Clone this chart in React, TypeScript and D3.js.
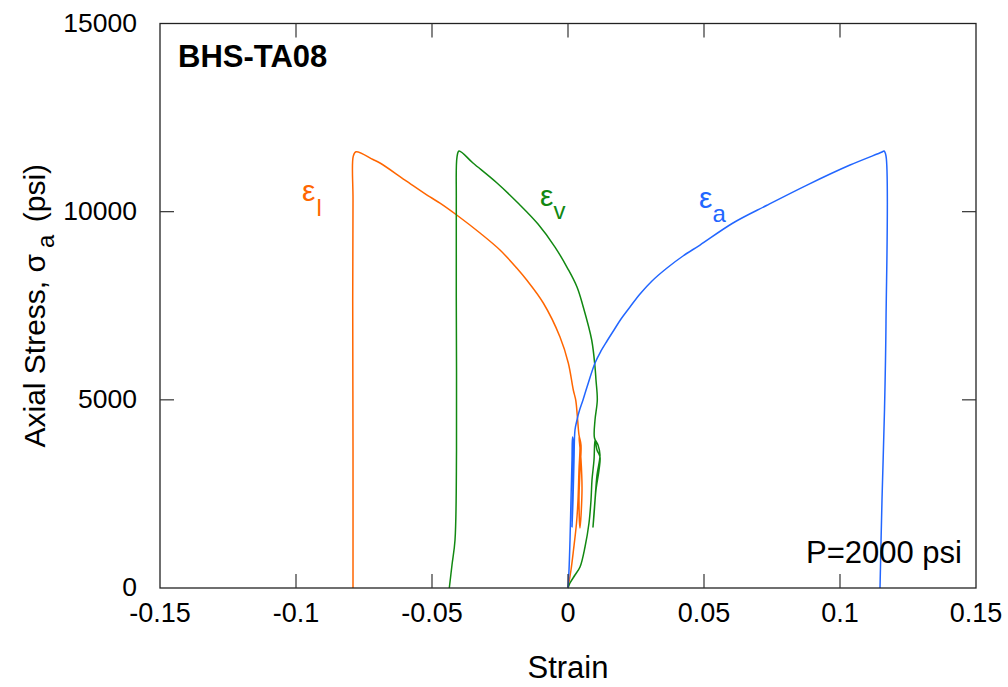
import React from "react";
import * as d3 from "d3";

// axial strain (blue)
const axialStrain = [0, 0.00037, 0.00074, 0.0011, 0.00147, 0.00165, 0.00184, 0.00184, 0.00147, 0.00184, 0.00221, 0.00257, 0.00331, 0.00404, 0.00551, 0.00699, 0.00993, 0.01213, 0.01434, 0.01691, 0.01949, 0.02279, 0.02647, 0.03088, 0.0364, 0.04228, 0.04853, 0.06066, 0.07316, 0.08787, 0.10368, 0.11544, 0.11618, 0.11691, 0.11691, 0.11636, 0.11544, 0.11471];
const axialStress = [0, 478, 1276, 2338, 3401, 4012, 3933, 2870, 1621, 2338, 3401, 4198, 4464, 4677, 4996, 5341, 5979, 6298, 6563, 6856, 7148, 7467, 7812, 8158, 8503, 8822, 9114, 9699, 10171, 10707, 11239, 11585, 11611, 11479, 7042, 4730, 2338, 0];

// lateral strain (orange)
const lateralStrain = [0, 0.0011, 0.00202, 0.00313, 0.00368, 0.00404, 0.00441, 0.00404, 0.00478, 0.00515, 0.00441, 0.00404, 0.00441, 0.00478, 0.00404, 0.00349, 0.00283, 0.00195, 0.00011, -0.00294, -0.00908, -0.01518, -0.01886, -0.025, -0.03235, -0.04092, -0.04706, -0.05074, -0.05993, -0.06912, -0.0717, -0.07794, -0.07893, -0.07904, -0.07915, -0.07904, -0.07904];
const lateralStress = [0, 478, 1010, 1727, 2338, 3136, 3800, 4012, 3401, 2604, 1594, 2338, 3136, 3800, 4066, 4517, 4996, 5261, 5979, 6670, 7573, 8184, 8503, 8981, 9433, 9912, 10228, 10390, 10841, 11293, 11386, 11593, 11479, 10310, 7653, 3667, 0];

// volumetric strain (green)
const volStrain = [0, 0.00074, 0.00257, 0.00441, 0.00625, 0.00772, 0.00846, 0.00882, 0.00956, 0.00993, 0.01066, 0.01176, 0.0114, 0.01029, 0.00956, 0.00919, 0.00993, 0.01066, 0.01176, 0.01103, 0.00974, 0.00993, 0.01077, 0.01029, 0.00993, 0.00871, 0.00551, 0.00331, 0, -0.00478, -0.01103, -0.01801, -0.0261, -0.03493, -0.04007, -0.04081, -0.04107, -0.04107, -0.04099, -0.04154, -0.04265, -0.04364];
const volStress = [0, 133, 345, 558, 1089, 1727, 2338, 2870, 3401, 3933, 3667, 3481, 3136, 2604, 1940, 1621, 2338, 3003, 3534, 3800, 3986, 4464, 4996, 5527, 5872, 6590, 7493, 7998, 8476, 9060, 9672, 10204, 10762, 11293, 11612, 11452, 10310, 7653, 3667, 1275, 611, 0];

const xTicks = [-0.15, -0.1, -0.05, 0, 0.05, 0.1, 0.15];
const xTickLabels = ["-0.15", "-0.1", "-0.05", "0", "0.05", "0.1", "0.15"];
const yTicks = [0, 5000, 10000, 15000];
const yTickLabels = ["0", "5000", "10000", "15000"];

const FONT = "'Liberation Sans', Arial, Helvetica, sans-serif";

export default function App() {
  const left = 160, right = 976, top = 23.5, bottom = 588;
  const x = d3.scaleLinear().domain([-0.15, 0.15]).range([left, right]);
  const y = d3.scaleLinear().domain([0, 15000]).range([bottom, top]);
  const line = d3
    .line<[number, number]>()
    .x((d) => x(d[0]))
    .y((d) => y(d[1]))
    .curve(d3.curveCatmullRom.alpha(0.5));
  const mk = (a: number[], b: number[]) => a.map((v, i) => [v, b[i]] as [number, number]);
  const tickLen = 14;
  const series = [
    { d: mk(lateralStrain, lateralStress), c: "#ff6600" },
    { d: mk(volStrain, volStress), c: "#118811" },
    { d: mk(axialStrain, axialStress), c: "#2266ff" },
  ];
  return (
    <svg width={1008} height={687} style={{ position: "absolute", left: 0, top: 0, background: "#fff" }} fontFamily={FONT}>
      <rect x={0} y={0} width={1008} height={687} fill="#fff" />
      {series.map((s, i) => (
        <path key={i} d={line(s.d) || ""} fill="none" stroke={s.c} strokeWidth={1.5} strokeLinejoin="round" />
      ))}
      <rect x={left} y={top} width={right - left} height={bottom - top} fill="none" stroke="#222" strokeWidth={1.3} />
      {xTicks.slice(1, -1).map((t) => (
        <g key={"xt" + t} stroke="#333" strokeWidth={1.2}>
          <line x1={x(t)} x2={x(t)} y1={bottom} y2={bottom - tickLen} />
          <line x1={x(t)} x2={x(t)} y1={top} y2={top + tickLen} />
        </g>
      ))}
      {yTicks.slice(1, -1).map((t) => (
        <g key={"yt" + t} stroke="#333" strokeWidth={1.2}>
          <line x1={left} x2={left + tickLen} y1={y(t)} y2={y(t)} />
          <line x1={right} x2={right - tickLen} y1={y(t)} y2={y(t)} />
        </g>
      ))}
      {xTicks.map((t, i) => (
        <text key={"xl" + t} x={x(t)} y={622} fontSize={27} textAnchor="middle" fill="#000">{xTickLabels[i]}</text>
      ))}
      {yTicks.map((t, i) => (
        <text key={"yl" + t} x={137} y={y(t) + 8} fontSize={26.5} textAnchor="end" fill="#000">{yTickLabels[i]}</text>
      ))}
      <text x={(left + right) / 2} y={678} fontSize={31} textAnchor="middle" fill="#000">Strain</text>
      <text transform={`translate(45,${(top + bottom) / 2}) rotate(-90)`} fontSize={30} textAnchor="middle" fill="#000">
        Axial Stress, σ<tspan dx={6} dy={9} fontSize={24}>a</tspan><tspan dx={4} dy={-9}> (psi)</tspan>
      </text>
      <text x={178} y={67} fontSize={31} fontWeight="bold" fill="#000">BHS-TA08</text>
      <text x={806} y={563} fontSize={31} fill="#000">P=2000 psi</text>
      <text x={302} y={201} fontSize={30} fill="#ff6600">ε<tspan dx={1} dy={15} fontSize={24}>l</tspan></text>
      <text x={540} y={206} fontSize={30} fill="#118811">ε<tspan dx={0} dy={13} fontSize={24}>v</tspan></text>
      <text x={699} y={208} fontSize={30} fill="#2266ff">ε<tspan dx={0} dy={14} fontSize={24}>a</tspan></text>
    </svg>
  );
}
